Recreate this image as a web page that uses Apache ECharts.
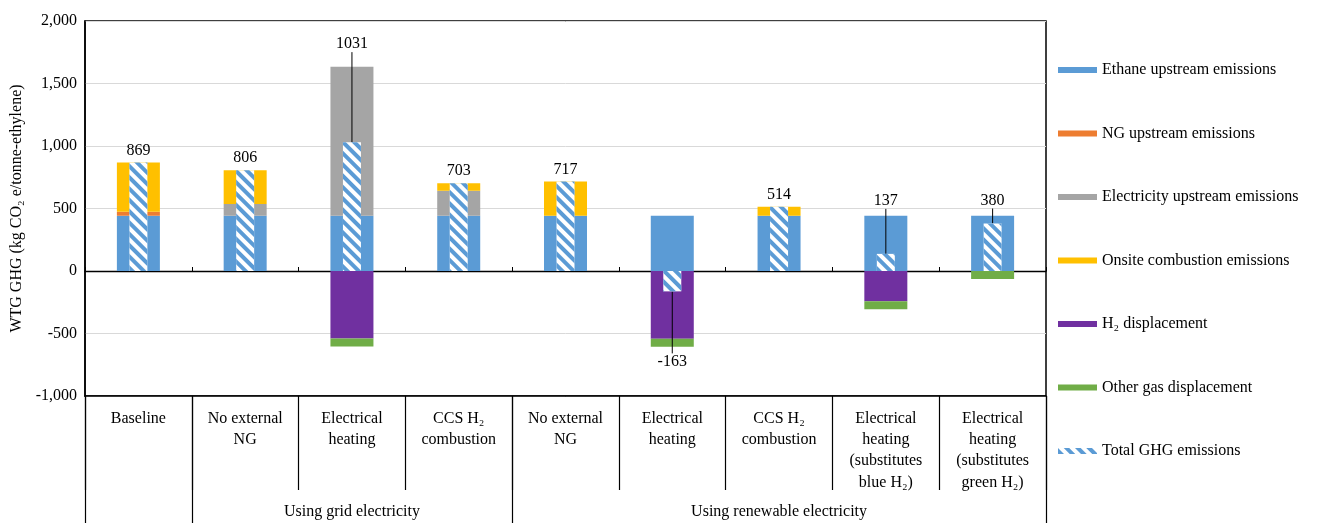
<!DOCTYPE html>
<html><head><meta charset="utf-8">
<script src="https://cdn.jsdelivr.net/npm/echarts@6/dist/echarts.min.js"></script>
<style>html,body{margin:0;padding:0;background:#fff}#c{width:1320px;height:523px}</style>
</head><body><div id="c"></div>
<script>
const categories = ['Baseline','No external\nNG','Electrical\nheating','CCS H₂\ncombustion','No external\nNG','Electrical\nheating','CCS H₂\ncombustion','Electrical\nheating\n(substitutes\nblue H₂)','Electrical\nheating\n(substitutes\ngreen H₂)'];
const groupNames = ['', 'Using grid electricity', 'Using renewable electricity'];
const groupSizes = [1, 3, 5];
const ethaneUpstream = [443,443,443,443,443,443,443,443,443];
const ngUpstream = [32,0,0,0,0,0,0,0,0];
const elecUpstream = [0,94,1192,200,0,0,0,0,0];
const onsiteCombustion = [394,269,0,60,274,0,71,0,0];
const h2Displacement = [0,0,-540,0,0,-542,0,-242,0];
const otherGasDisplacement = [0,0,-64,0,0,-64,0,-64,-63];
const totalGHG = [869,806,1031,703,717,-163,514,137,380];
const seriesNames = ['Ethane upstream emissions','NG upstream emissions','Electricity upstream emissions','Onsite combustion emissions','H₂ displacement','Other gas displacement','Total GHG emissions'];

const FONT = "'Liberation Serif','Times New Roman',serif";
const colors = ['#5B9BD5','#ED7D31','#A5A5A5','#FFC000','#7030A0','#70AD47'];
const stackData = [ethaneUpstream, ngUpstream, elecUpstream, onsiteCombustion, h2Displacement, otherGasDisplacement];

// label pixel shifts for leader-lined labels (style only)
const labelShift = {2:-86, 5:58, 7:-41, 8:-11};

// group boundaries / midpoints from group sizes
const bounds = [0]; groupSizes.forEach(s => bounds.push(bounds[bounds.length-1] + s));
const mids = groupSizes.map((s, i) => bounds[i] + s / 2);

const chart = echarts.init(document.getElementById('c'));
const series = stackData.map((d, i) => ({
  name: seriesNames[i], type: 'bar', stack: 'a', xAxisIndex: 0, yAxisIndex: 0,
  barWidth: 43, data: d, itemStyle: {color: colors[i]}, z: 2
}));
series.push({
  name: seriesNames[6], type: 'bar', xAxisIndex: 1, yAxisIndex: 0, barWidth: 18, z: 5,
  itemStyle: {color: '#ffffff', decal: {symbol: 'rect', symbolSize: 1, color: '#5B9BD5', dashArrayX: [1, 0], dashArrayY: [3.6, 3.4], rotation: Math.PI / 4}},
  label: {show: true, fontFamily: FONT, fontSize: 16, color: '#000', distance: 4},
  labelLine: {show: false, lineStyle: {color: '#000', width: 1}},
  labelLayout: p => (labelShift[p.dataIndex] != null ? {dy: labelShift[p.dataIndex]} : {}),
  data: totalGHG.map((v, i) => ({
    value: v,
    label: {position: v < 0 ? 'bottom' : 'top'},
    labelLine: {show: labelShift[i] != null, lineStyle: {color: '#000', width: 1}}
  }))
});

chart.setOption({
  animation: false,
  backgroundColor: '#fff',
  textStyle: {fontFamily: FONT},
  grid: {left: 85, right: 274, top: 21, bottom: 127, show: true, borderColor: '#000', borderWidth: 1.5, containLabel: false},
  legend: {
    orient: 'vertical', left: 1053, top: 56, itemWidth: 39, itemHeight: 6, itemGap: 45.5,
    icon: 'rect', data: seriesNames,
    textStyle: {fontFamily: FONT, fontSize: 16, color: '#000', lineHeight: 18}
  },
  xAxis: [
    {type: 'category', data: categories, position: 'bottom', gridIndex: 0,
     axisLine: {onZero: false, lineStyle: {color: '#000', width: 1.5}},
     axisTick: {show: true, length: 94, lineStyle: {color: '#000', width: 1.2}},
     axisLabel: {interval: 0, fontFamily: FONT, fontSize: 16, color: '#000', lineHeight: 21.3, margin: 12, verticalAlign: 'top'}},
    {type: 'category', data: categories, position: 'bottom', gridIndex: 0,
     axisLine: {onZero: true, lineStyle: {color: '#000', width: 1.4}},
     axisTick: {show: true, inside: true, length: 4, lineStyle: {color: '#000'}},
     axisLabel: {show: false}},
    {type: 'value', min: 0, max: bounds[bounds.length-1], position: 'bottom', gridIndex: 0,
     axisLine: {show: false, onZero: false}, splitLine: {show: false},
     axisTick: {show: true, length: 127, customValues: bounds, lineStyle: {color: '#000', width: 1.2}},
     axisLabel: {show: true, customValues: mids, margin: 108, fontFamily: FONT, fontSize: 16, color: '#000',
       formatter: v => { const k = mids.findIndex(m => Math.abs(m - v) < 1e-6); return k >= 0 ? groupNames[k] : ''; }}}
  ],
  yAxis: [{
    type: 'value', min: -1000, max: 2000, interval: 500,
    name: 'WTG GHG (kg CO₂ e/tonne-ethylene)', nameLocation: 'middle', nameGap: 57,
    nameTextStyle: {fontFamily: FONT, fontSize: 16, color: '#000'},
    axisLine: {show: true, lineStyle: {color: '#000', width: 1.5}},
    axisTick: {show: false},
    axisLabel: {fontFamily: FONT, fontSize: 16, color: '#000', margin: 8,
      formatter: v => v.toLocaleString('en-US')},
    splitLine: {show: true, lineStyle: {color: '#d9d9d9', width: 1}}
  }],
  series: series
});
</script></body></html>
